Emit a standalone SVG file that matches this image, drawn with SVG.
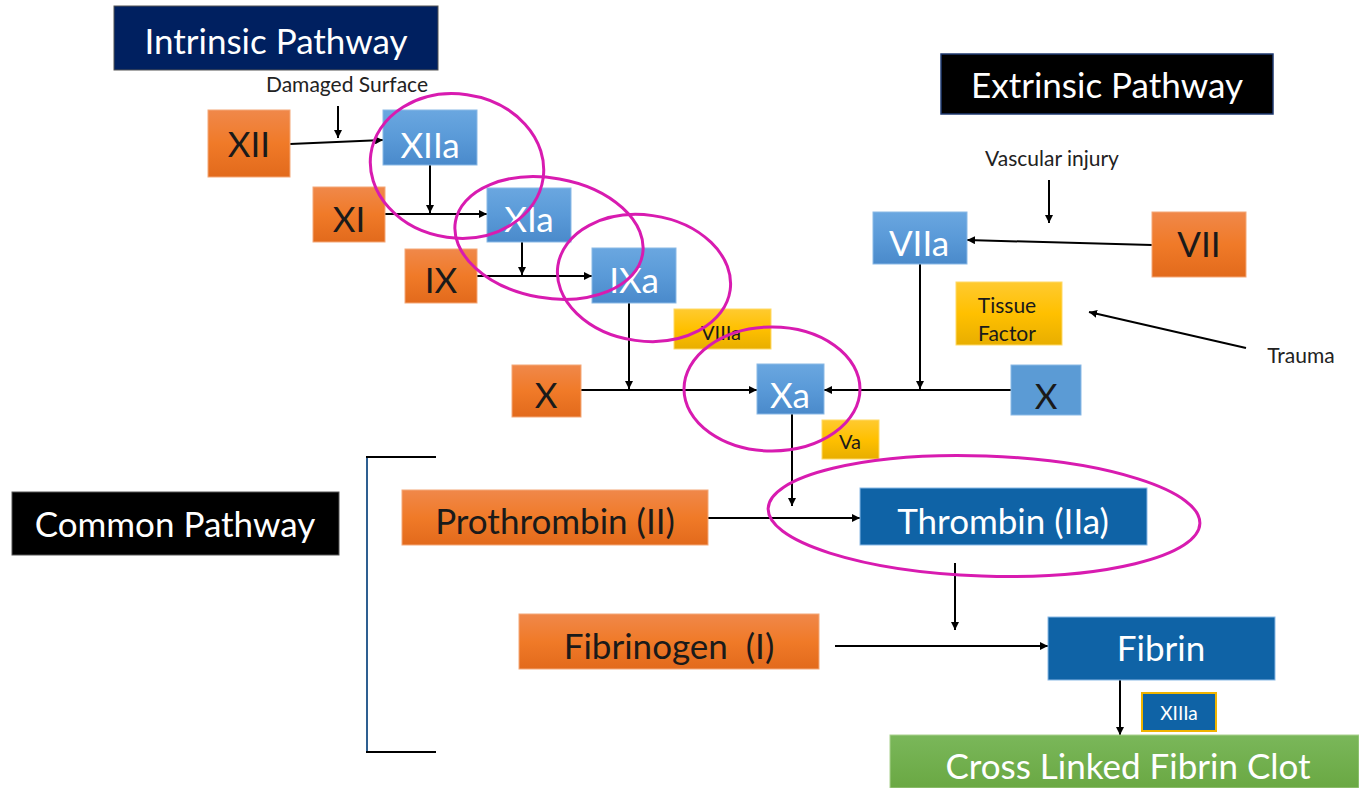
<svg xmlns="http://www.w3.org/2000/svg" width="1359" height="788" viewBox="0 0 1359 788">
<defs>
<linearGradient id="gOr" x1="0" y1="0" x2="0" y2="1"><stop offset="0" stop-color="#f0884a"/><stop offset="0.5" stop-color="#f07a28"/><stop offset="1" stop-color="#e26a1c"/></linearGradient>
<linearGradient id="gBl" x1="0" y1="0" x2="0" y2="1"><stop offset="0" stop-color="#6aa7e0"/><stop offset="0.5" stop-color="#5a9ad8"/><stop offset="1" stop-color="#4a8acb"/></linearGradient>
<linearGradient id="gYe" x1="0" y1="0" x2="0" y2="1"><stop offset="0" stop-color="#ffca30"/><stop offset="0.5" stop-color="#ffc000"/><stop offset="1" stop-color="#e8ae00"/></linearGradient>
<linearGradient id="gGr" x1="0" y1="0" x2="0" y2="1"><stop offset="0" stop-color="#7ab75a"/><stop offset="1" stop-color="#6aa843"/></linearGradient>
<marker id="ah" viewBox="0 0 10 10" refX="10" refY="5" markerWidth="8" markerHeight="8" markerUnits="userSpaceOnUse" orient="auto"><path d="M0,0 L10,5 L0,10 z" fill="#000"/></marker>
</defs>
<style>
text{font-family:Lato,"Open Sans","Liberation Sans",sans-serif;text-anchor:middle;dominant-baseline:central;white-space:pre}
.or{fill:url(#gOr);stroke:#f4a878;stroke-width:1}
.bl{fill:url(#gBl);stroke:#8ab9e6;stroke-width:1}
.ye{fill:url(#gYe);stroke:#ffd966;stroke-width:1}
.db{fill:#0f63a6;stroke:#8ab9e6;stroke-width:1}
.hdr{stroke:#555;stroke-width:1}
.tb{fill:#1a1a1a}
.tw{fill:#fff}
.big{font-size:35px}
.sm{font-size:20px}
.ca{stroke:#000;stroke-width:2;fill:none;marker-end:url(#ah)}
.el{fill:none;stroke:#d81bb0;stroke-width:3}
.lab{font-size:21px;fill:#222}
</style>
<rect width="1359" height="788" fill="#fff"/>

<g id="intrinsic-header"><rect x="114" y="6" width="324" height="64" fill="#002060" class="hdr"/><text x="276" y="40" class="tw big">Intrinsic Pathway</text></g>
<g id="extrinsic-header"><rect x="941" y="54" width="332" height="60" fill="#000" stroke="#1f3a70" stroke-width="1.5"/><text x="1107" y="84" class="tw big">Extrinsic Pathway</text></g>
<g id="common-header"><rect x="12" y="492" width="327" height="63" fill="#000" class="hdr"/><text x="175" y="523" class="tw big">Common Pathway</text></g>

<g id="label-damaged"><text x="347" y="83" class="lab">Damaged Surface</text></g>
<g id="label-vascular"><text x="1052" y="157" class="lab">Vascular injury</text></g>
<g id="label-trauma"><text x="1301" y="354" class="lab">Trauma</text></g>

<g id="connectors">
<line x1="290" y1="144" x2="383" y2="140" class="ca"/>
<line x1="338" y1="106" x2="338" y2="138" class="ca"/>
<line x1="385" y1="214" x2="487" y2="214" class="ca"/>
<line x1="430" y1="165" x2="430" y2="213" class="ca"/>
<line x1="477" y1="276" x2="592" y2="276" class="ca"/>
<line x1="522" y1="242" x2="522" y2="275" class="ca"/>
<line x1="581" y1="390" x2="757" y2="390" class="ca"/>
<line x1="629" y1="303" x2="629" y2="389" class="ca"/>
<line x1="1011" y1="390" x2="824" y2="390" class="ca"/>
<line x1="920" y1="264" x2="920" y2="389" class="ca"/>
<line x1="1152" y1="245" x2="967" y2="240" class="ca"/>
<line x1="1049" y1="180" x2="1049" y2="223" class="ca"/>
<line x1="1246" y1="348" x2="1089" y2="312" class="ca"/>
<line x1="708" y1="518" x2="860" y2="518" class="ca"/>
<line x1="792" y1="414" x2="792" y2="506" class="ca"/>
<line x1="955" y1="563" x2="955" y2="630" class="ca"/>
<line x1="835" y1="646" x2="1048" y2="646" class="ca"/>
<line x1="1120" y1="680" x2="1120" y2="735" class="ca"/>
<path d="M436,457 H367 V752 H436" fill="none" stroke="#000" stroke-width="2"/>
<line x1="367" y1="458" x2="367" y2="751" stroke="#2e5f91" stroke-width="2"/>
</g>

<g id="n-XII"><rect x="208" y="110" width="82" height="67" class="or"/><text x="249" y="143" class="tb big">XII</text></g>
<g id="n-XIIa"><rect x="383" y="110" width="94" height="55" class="bl"/><text x="430" y="144" class="tw big">XIIa</text></g>
<g id="n-XI"><rect x="313" y="187" width="72" height="55" class="or"/><text x="349" y="218" class="tb big">XI</text></g>
<g id="n-XIa"><rect x="487" y="188" width="84" height="54" class="bl"/><text x="529" y="218" class="tw big">XIa</text></g>
<g id="n-IX"><rect x="405" y="249" width="72" height="54" class="or"/><text x="441" y="279" class="tb big">IX</text></g>
<g id="n-IXa"><rect x="592" y="248" width="84" height="55" class="bl"/><text x="634" y="279" class="tw big">IXa</text></g>
<g id="n-VIIIa"><rect x="674" y="309" width="97" height="40" class="ye"/><text x="721" y="332" class="tb sm">VIIIa</text></g>
<g id="n-X-left"><rect x="512" y="365" width="69" height="52" class="or"/><text x="546" y="394" class="tb big">X</text></g>
<g id="n-Xa"><rect x="757" y="364" width="67" height="50" class="bl"/><text x="790" y="394" class="tw big">Xa</text></g>
<g id="n-Va"><rect x="822" y="420" width="57" height="39" class="ye"/><text x="850" y="441" class="tb sm">Va</text></g>
<g id="n-VIIa"><rect x="873" y="212" width="94" height="52" class="bl"/><text x="919" y="242" class="tw big">VIIa</text></g>
<g id="n-VII"><rect x="1152" y="212" width="94" height="65" class="or"/><text x="1199" y="243" class="tb big">VII</text></g>
<g id="n-TF"><rect x="956" y="282" width="106" height="63" class="ye"/><text x="1007" y="304" class="tb" font-size="21">Tissue</text><text x="1007" y="332" class="tb" font-size="21">Factor</text></g>
<g id="n-X-right"><rect x="1011" y="365" width="70" height="50" fill="#5b9bd5" stroke="#8ab9e6"/><text x="1046" y="395" class="tb big">X</text></g>
<g id="n-prothrombin"><rect x="402" y="490" width="306" height="55" class="or"/><text x="555" y="520" class="tb big">Prothrombin (II)</text></g>
<g id="n-thrombin"><rect x="860" y="488" width="287" height="57" class="db"/><text x="1003" y="520" class="tw big">Thrombin (IIa)</text></g>
<g id="n-fibrinogen"><rect x="519" y="614" width="300" height="55" class="or"/><text x="669" y="645" class="tb big">Fibrinogen  (I)</text></g>
<g id="n-fibrin"><rect x="1048" y="617" width="227" height="63" class="db"/><text x="1161" y="647" class="tw big">Fibrin</text></g>
<g id="n-XIIIa"><rect x="1142" y="693" width="74" height="38" fill="#0f63a6" stroke="#f0b400" stroke-width="2"/><text x="1179" y="712" class="tw" font-size="19">XIIIa</text></g>
<g id="n-clot"><rect x="890" y="735" width="469" height="53" fill="url(#gGr)" stroke="#a9d18e"/><text x="1128" y="765" class="tw" font-size="35">Cross Linked Fibrin Clot</text></g>

<g id="highlights">
<ellipse cx="457" cy="166" rx="87" ry="72" transform="rotate(8 457 166)" class="el"/>
<ellipse cx="549" cy="238" rx="95" ry="60" transform="rotate(10 549 238)" class="el"/>
<ellipse cx="644" cy="278" rx="87" ry="63" transform="rotate(8 644 278)" class="el"/>
<ellipse cx="772" cy="389" rx="88" ry="62" class="el"/>
<ellipse cx="984" cy="516" rx="216" ry="60" transform="rotate(2 984 516)" class="el"/>
</g>
</svg>
